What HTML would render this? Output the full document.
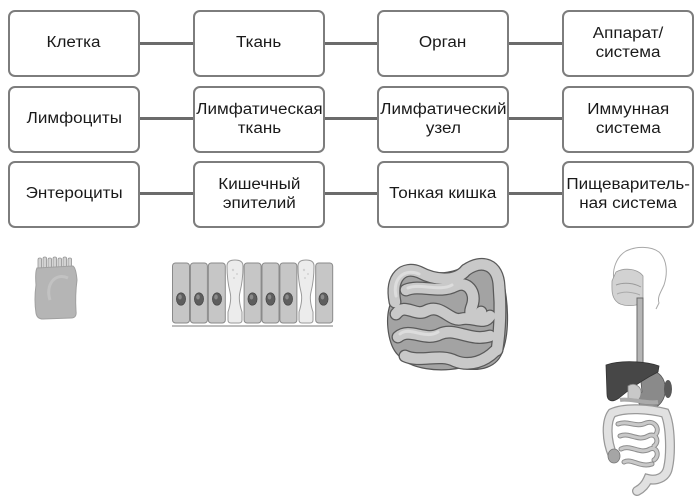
<!DOCTYPE html>
<html><head><meta charset="utf-8">
<style>
html,body{margin:0;padding:0;background:#fff;}
body{width:700px;height:499px;position:relative;overflow:hidden;font-family:"Liberation Sans","DejaVu Sans",sans-serif;}
.b{position:absolute;box-sizing:border-box;width:132px;height:67px;border:2px solid #7d7d7d;border-radius:7px;background:#fff;display:flex;align-items:center;justify-content:center;text-align:center;}
.b span{display:inline-block;font-size:15.5px;line-height:18.5px;color:#1a1a1a;white-space:nowrap;transform:scaleX(1.1);}
.c{position:absolute;height:3px;background:#6b6b6b;}
svg{position:absolute;left:0;top:0;}
</style></head><body>

<div class="c" style="left:140px;width:53px;top:42px"></div>
<div class="c" style="left:324px;width:53px;top:42px"></div>
<div class="c" style="left:508px;width:54px;top:42px"></div>
<div class="c" style="left:140px;width:53px;top:117px"></div>
<div class="c" style="left:324px;width:53px;top:117px"></div>
<div class="c" style="left:508px;width:54px;top:117px"></div>
<div class="c" style="left:140px;width:53px;top:192px"></div>
<div class="c" style="left:324px;width:53px;top:192px"></div>
<div class="c" style="left:508px;width:54px;top:192px"></div>

<div class="b" style="left:8px;top:10px"><span>Клетка</span></div>
<div class="b" style="left:193px;top:10px"><span>Ткань</span></div>
<div class="b" style="left:377px;top:10px"><span>Орган</span></div>
<div class="b" style="left:562px;top:10px"><span>Аппарат/<br>система</span></div>

<div class="b" style="left:8px;top:86px"><span>Лимфоциты</span></div>
<div class="b" style="left:193px;top:86px"><span>Лимфатическая<br>ткань</span></div>
<div class="b" style="left:377px;top:86px"><span>Лимфатический<br>узел</span></div>
<div class="b" style="left:562px;top:86px"><span>Иммунная<br>система</span></div>

<div class="b" style="left:8px;top:161px"><span>Энтероциты</span></div>
<div class="b" style="left:193px;top:161px"><span>Кишечный<br>эпителий</span></div>
<div class="b" style="left:377px;top:161px"><span>Тонкая кишка</span></div>
<div class="b" style="left:562px;top:161px"><span>Пищеваритель-<br>ная система</span></div>

<svg width="700" height="499" viewBox="0 0 700 499">
  <!-- Enterocyte -->
  <g>
    <g fill="#d2d2d2" stroke="#969696" stroke-width="0.8">
      <rect x="38" y="258" width="3.6" height="12" rx="1.6"/>
      <rect x="43" y="257" width="3.6" height="13" rx="1.6"/>
      <rect x="48" y="258" width="3.6" height="12" rx="1.6"/>
      <rect x="53" y="257" width="3.6" height="13" rx="1.6"/>
      <rect x="58" y="258" width="3.6" height="12" rx="1.6"/>
      <rect x="63" y="257" width="3.6" height="13" rx="1.6"/>
      <rect x="68" y="258" width="3.6" height="12" rx="1.6"/>
    </g>
    <path d="M37,268 Q35,272 36,285 Q34,300 36,313 Q37,319 43,319 L71,318 Q77,318 76,311 Q75,295 77,280 Q76,268 73,266 Z" fill="#b5b5b5" stroke="#a0a0a0" stroke-width="1"/>
    <path d="M50,300 C45,285 55,272 68,278" fill="none" stroke="#c2c2c2" stroke-width="3"/>
  </g>

  <!-- Epithelium -->
  <g>
    <line x1="172" y1="326" x2="333" y2="326" stroke="#bdbdbd" stroke-width="2"/>
    <g fill="#c6c6c6" stroke="#8a8a8a" stroke-width="1">
      <rect x="172.5" y="263" width="17" height="60" rx="3"/>
      <rect x="190.4" y="263" width="17" height="60" rx="3"/>
      <rect x="208.3" y="263" width="17" height="60" rx="3"/>
      <rect x="244.1" y="263" width="17" height="60" rx="3"/>
      <rect x="262" y="263" width="17" height="60" rx="3"/>
      <rect x="279.9" y="263" width="17" height="60" rx="3"/>
      <rect x="315.7" y="263" width="17" height="60" rx="3"/>
    </g>
    <g fill="#ececec" stroke="#9a9a9a" stroke-width="1">
      <path d="M227,266 Q227,260 235,260 Q243,260 243,266 Q243,280 240,292 Q238,300 242,312 L242,320 Q242,323 239,323 L231,323 Q228,323 228,320 L228,312 Q232,300 230,292 Q227,280 227,266 Z"/>
      <path d="M298,266 Q298,260 306,260 Q314,260 314,266 Q314,280 311,292 Q309,300 313,312 L313,320 Q313,323 310,323 L302,323 Q299,323 299,320 L299,312 Q303,300 301,292 Q298,280 298,266 Z"/>
    </g>
    <g fill="#cfcfcf" opacity="0.9">
      <circle cx="233" cy="270" r="1.2"/><circle cx="237" cy="274" r="1"/><circle cx="234" cy="278" r="1"/>
      <circle cx="304" cy="270" r="1.2"/><circle cx="308" cy="274" r="1"/><circle cx="305" cy="278" r="1"/>
    </g>
    <g fill="#5e5e5e" stroke="#3e3e3e" stroke-width="0.6">
      <ellipse cx="181" cy="299" rx="4.6" ry="6.2"/>
      <ellipse cx="199" cy="299" rx="4.6" ry="6.2"/>
      <ellipse cx="217" cy="299" rx="4.6" ry="6.2"/>
      <ellipse cx="252.5" cy="299" rx="4.6" ry="6.2"/>
      <ellipse cx="270.5" cy="299" rx="4.6" ry="6.2"/>
      <ellipse cx="288" cy="299" rx="4.6" ry="6.2"/>
      <ellipse cx="323.5" cy="299" rx="4.6" ry="6.2"/>
    </g>
    <g fill="#8a8a8a">
      <ellipse cx="180" cy="297" rx="1.8" ry="2.5"/>
      <ellipse cx="198" cy="297" rx="1.8" ry="2.5"/>
      <ellipse cx="216" cy="297" rx="1.8" ry="2.5"/>
      <ellipse cx="251.5" cy="297" rx="1.8" ry="2.5"/>
      <ellipse cx="269.5" cy="297" rx="1.8" ry="2.5"/>
      <ellipse cx="287" cy="297" rx="1.8" ry="2.5"/>
      <ellipse cx="322.5" cy="297" rx="1.8" ry="2.5"/>
    </g>
  </g>

  <!-- Small intestine -->
  <g fill="none" stroke-linecap="round">
    <path d="M392,282 C390,268 410,262 425,270 C440,276 455,272 470,264 C485,258 500,262 503,280 C508,300 510,330 503,350 C498,368 480,372 460,368 C440,372 410,370 398,355 C388,345 385,320 390,305 Z" fill="#a3a3a3" stroke="#555" stroke-width="1.2"/>
    <g stroke="#5a5a5a" stroke-width="13">
      <path d="M395,302 C390,276 404,266 419,272 C434,280 455,283 466,270"/>
      <path d="M466,270 C482,259 498,264 499,286 C501,310 500,330 497,350"/>
      <path d="M406,290 C420,284 440,294 455,286 C467,280 477,292 472,306 C467,318 477,322 481,312"/>
      <path d="M396,314 C405,302 415,317 426,311 C441,303 450,322 461,319 C474,316 484,326 490,316"/>
      <path d="M398,337 C410,327 425,342 440,334 C455,327 470,342 490,336"/>
      <path d="M405,356 C420,363 440,353 455,361 C470,367 485,361 495,351"/>
    </g>
    <g stroke="#c9c9c9" stroke-width="10.5">
      <path d="M395,302 C390,276 404,266 419,272 C434,280 455,283 466,270"/>
      <path d="M466,270 C482,259 498,264 499,286 C501,310 500,330 497,350"/>
      <path d="M406,290 C420,284 440,294 455,286 C467,280 477,292 472,306 C467,318 477,322 481,312"/>
      <path d="M396,314 C405,302 415,317 426,311 C441,303 450,322 461,319 C474,316 484,326 490,316"/>
      <path d="M398,337 C410,327 425,342 440,334 C455,327 470,342 490,336"/>
      <path d="M405,356 C420,363 440,353 455,361 C470,367 485,361 495,351"/>
    </g>
    <g stroke="#e2e2e2" stroke-width="3" opacity="0.8">
      <path d="M396,296 C392,278 405,268 419,274"/>
      <path d="M408,288 C420,283 440,292 452,285"/>
      <path d="M400,334 C410,326 425,340 438,332"/>
    </g>
  </g>

  <!-- Digestive system -->
  <g>
    <path d="M614,280 C612,270 616,257 626,251 C636,246 651,246 659,252 C667,259 668,273 664,285 C661,292 657,297 659,303 L656,309" fill="none" stroke="#a8a8a8" stroke-width="1"/>
    <path d="M616,272 C625,267 638,269 643,276 L643,302 C636,307 621,307 616,301 C611,296 612,287 612,281 Z" fill="#d2d2d2" stroke="#9a9a9a" stroke-width="0.8"/>
    <path d="M616,285 C624,282 634,283 641,287" fill="none" stroke="#9a9a9a" stroke-width="1"/>
    <path d="M617,294 C624,291 633,292 640,295" fill="none" stroke="#aaa" stroke-width="1"/>
    <rect x="637" y="298" width="6" height="66" fill="#b5b5b5" stroke="#6a6a6a" stroke-width="1"/>
    <path d="M640,372 C650,367 663,372 665,385 C667,399 659,409 648,409 C639,409 635,400 642,392 Z" fill="#8a8a8a" stroke="#555" stroke-width="0.8"/>
    <ellipse cx="668" cy="389" rx="4" ry="9" fill="#595959"/>
    <path d="M606,365 C620,360 645,361 659,366 L658,372 C646,378 631,388 619,398 C612,403 607,401 607,394 Z" fill="#474747" stroke="#333" stroke-width="0.8"/>
    <path d="M628,386 C634,382 642,386 641,394 C640,402 632,404 628,398 Z" fill="#c8c8c8" stroke="#888" stroke-width="0.8"/>
    <path d="M620,400 C630,398 645,404 658,402" fill="none" stroke="#aaa" stroke-width="4"/>
    <g fill="none" stroke-linecap="round">
      <path d="M613,456 C606,440 606,421 612,413 C625,407 650,409 665,413 C671,426 671,455 668,468 C666,478 656,481 648,479 C645,486 641,489 637,491" stroke="#999" stroke-width="10"/>
      <path d="M613,456 C606,440 606,421 612,413 C625,407 650,409 665,413 C671,426 671,455 668,468 C666,478 656,481 648,479 C645,486 641,489 637,491" stroke="#e1e1e1" stroke-width="7.5"/>
      <g stroke="#8e8e8e" stroke-width="5">
        <path d="M618,424 C628,420 636,428 646,423 C654,420 660,428 656,434"/>
        <path d="M620,436 C630,432 638,442 648,436 C656,432 660,442 654,446"/>
        <path d="M621,449 C631,444 640,455 650,449 C657,446 660,456 654,460"/>
        <path d="M624,462 C632,458 640,468 652,464"/>
      </g>
      <g stroke="#c9c9c9" stroke-width="3">
        <path d="M618,424 C628,420 636,428 646,423 C654,420 660,428 656,434"/>
        <path d="M620,436 C630,432 638,442 648,436 C656,432 660,442 654,446"/>
        <path d="M621,449 C631,444 640,455 650,449 C657,446 660,456 654,460"/>
        <path d="M624,462 C632,458 640,468 652,464"/>
      </g>
    </g>
    <ellipse cx="614" cy="456" rx="6" ry="7" fill="#a5a5a5" stroke="#777" stroke-width="0.8"/>
  </g>
</svg>
</body></html>
